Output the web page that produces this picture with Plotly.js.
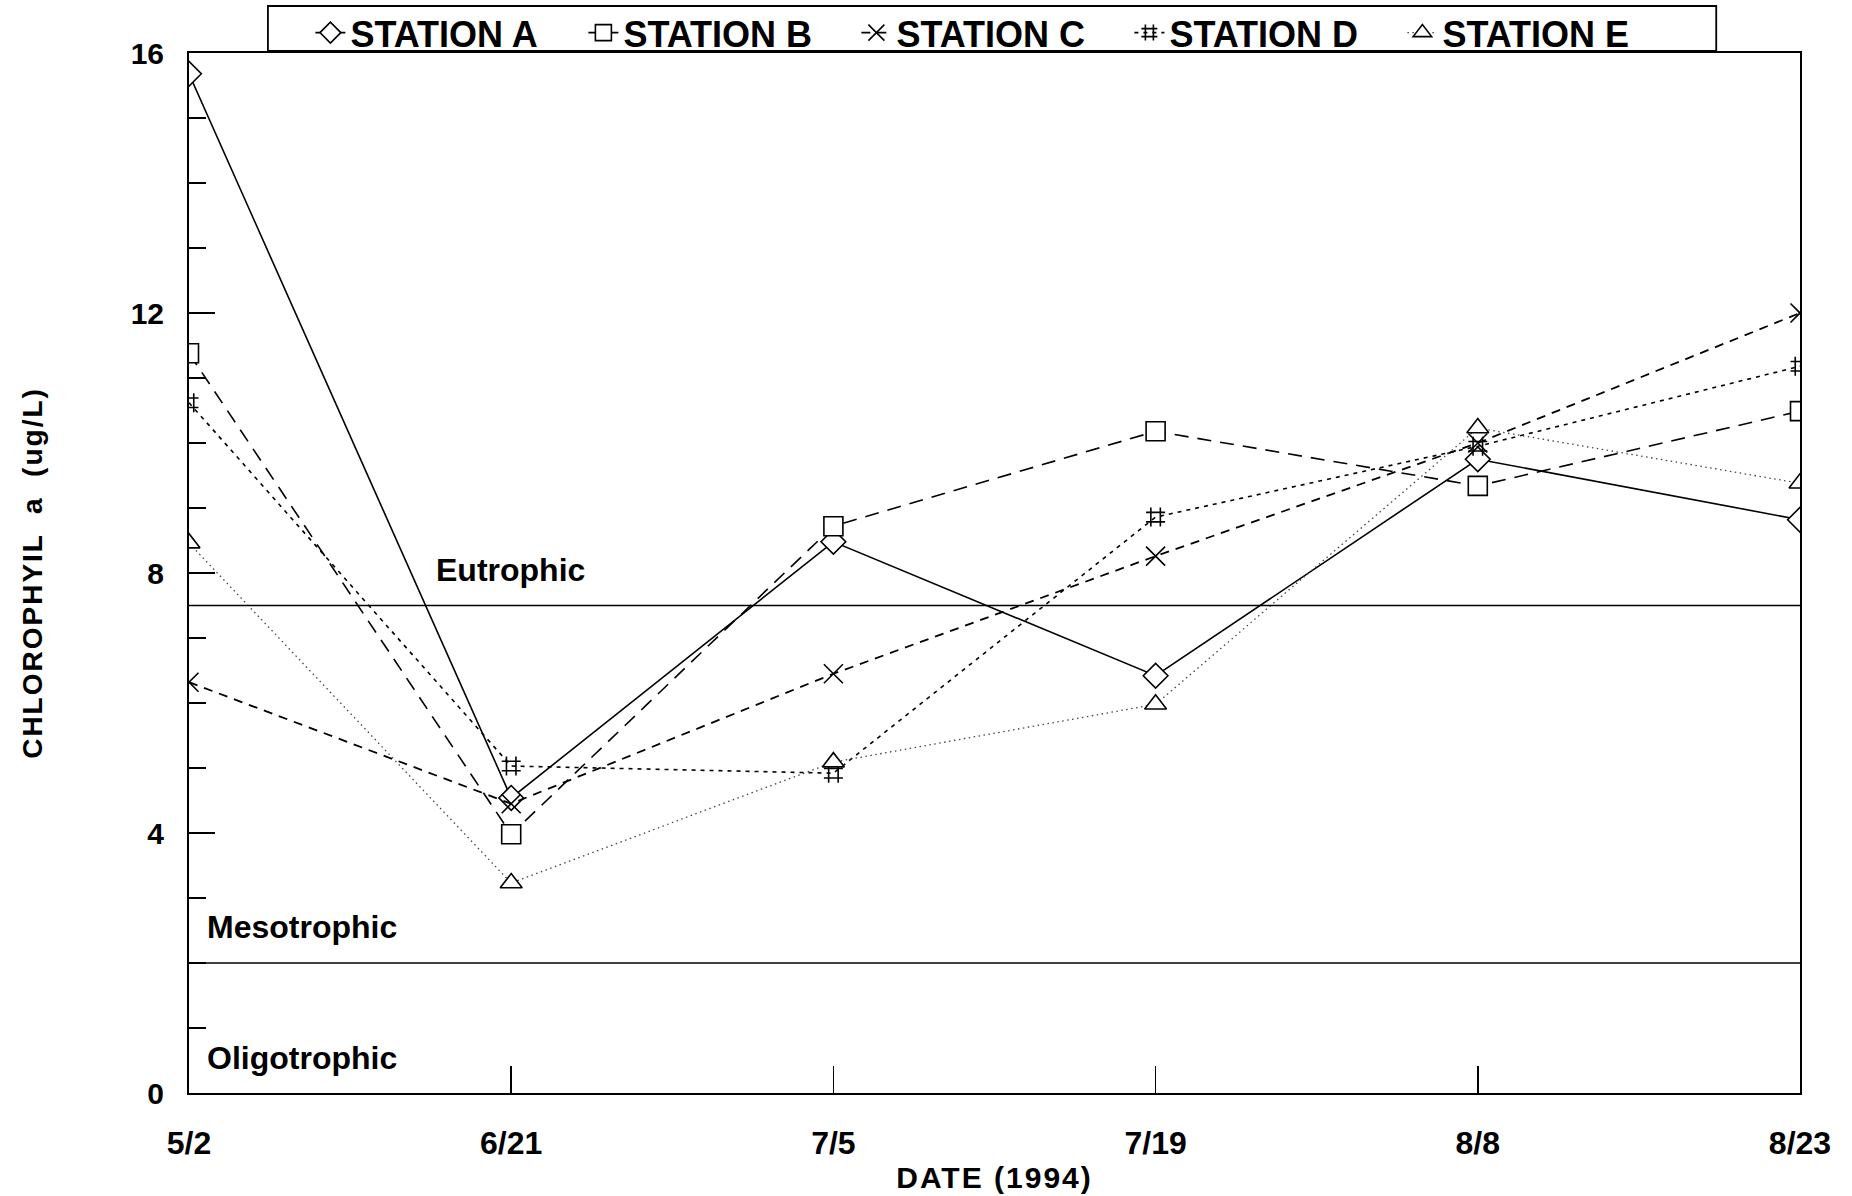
<!DOCTYPE html>
<html>
<head>
<meta charset="utf-8">
<script src="https://cdn.plot.ly/plotly-3.0.1.min.js"></script>
<style>
  html, body { margin: 0; padding: 0; background: #fff; }
  #chart { width: 1852px; height: 1196px; }
  .g-ytitle text { letter-spacing: 2px; }
  .g-xtitle text { letter-spacing: 2px; }
</style>
</head>
<body>
<div id="chart"></div>
<script>
// ---- data ----
const dates = ['5/2', '6/21', '7/5', '7/19', '8/8', '8/23'];
const stationA = [15.68, 4.54, 8.48, 6.42, 9.75, 8.82];
const stationB = [11.38, 3.98, 8.72, 10.18, 9.34, 10.49];
const stationC = [6.32, 4.45, 6.45, 8.26, 10.0, 12.0];
const stationD = [10.62, 5.03, 4.92, 8.86, 9.95, 11.18];
const stationE = [8.46, 3.23, 5.09, 5.98, 10.23, 9.38];
const stationNames = ['STATION A', 'STATION B', 'STATION C', 'STATION D', 'STATION E'];
const eutrophicLimit = 7.5;
const mesotrophicLimit = 2.0;

const FONT = '"Liberation Sans", Arial, Helvetica, sans-serif';

function trace(name, y, dash, symbol, fill, lw, lcolor) {
  return {
    x: dates, y: y, name: name, type: 'scatter', mode: 'lines+markers',
    line: { color: lcolor, width: lw, dash: dash },
    marker: { symbol: symbol, size: 19, color: fill, line: { color: '#000', width: 1.6 } }
  };
}

const data = [
  trace(stationNames[0], stationA, 'solid', 'diamond', '#fff', 1.6, '#000'),
  trace(stationNames[1], stationB, '14px,9px', 'square', '#fff', 1.6, '#000'),
  trace(stationNames[2], stationC, '9px,7px', 'x-thin-open', '#000', 1.8, '#000'),
  trace(stationNames[3], stationD, '4px,5px', 'hash-open', '#000', 1.6, '#000'),
  trace(stationNames[4], stationE, '1.5px,3.5px', 'triangle-up', '#fff', 1.3, '#444')
];

const layout = {
  width: 1852, height: 1196,
  paper_bgcolor: '#fff', plot_bgcolor: '#fff',
  margin: { l: 189, r: 52, t: 53, b: 103, autoexpand: false },
  font: { family: FONT, color: '#000', weight: 'bold' },
  showlegend: true,
  legend: {
    orientation: 'h', x: 0.499, xanchor: 'center', y: 1.0195, yanchor: 'middle',
    borderwidth: 0, bgcolor: 'rgba(0,0,0,0)',
    font: { family: FONT, size: 36, color: '#000', weight: 'bold' },
    entrywidth: 228, entrywidthmode: 'pixels', itemwidth: 30,
    traceorder: 'normal', valign: 'middle'
  },
  xaxis: {
    type: 'category', range: [0, 5], fixedrange: true,
    showline: true, linecolor: '#000', linewidth: 2, mirror: true,
    ticks: 'inside', ticklen: 27, tickwidth: 1.5, tickcolor: '#000',
    showgrid: false, zeroline: false,
    tickfont: { family: FONT, size: 32, color: '#000', weight: 'bold' },
    ticklabelstandoff: 21,
    title: { text: 'DATE (1994)', font: { family: FONT, size: 30, color: '#000', weight: 'bold' }, standoff: 7 }
  },
  yaxis: {
    range: [0, 16], dtick: 4, tick0: 0, fixedrange: true,
    showline: true, linecolor: '#000', linewidth: 2, mirror: true,
    ticks: 'inside', ticklen: 26, tickwidth: 1.5, tickcolor: '#000',
    minor: { dtick: 1, ticks: 'inside', ticklen: 17, tickwidth: 1.5, tickcolor: '#000', showgrid: false },
    showgrid: false, zeroline: false,
    tickfont: { family: FONT, size: 30, color: '#000', weight: 'bold' },
    ticklabelstandoff: 17,
    title: { text: 'CHLOROPHYIL  a  (ug/L)', font: { family: FONT, size: 28, color: '#000', weight: 'bold' }, standoff: 80 }
  },
  shapes: [
    { type: 'line', xref: 'paper', x0: 0, x1: 1, yref: 'y', y0: eutrophicLimit, y1: eutrophicLimit, line: { color: '#000', width: 1.6 } },
    { type: 'line', xref: 'paper', x0: 0, x1: 1, yref: 'y', y0: mesotrophicLimit, y1: mesotrophicLimit, line: { color: '#000', width: 1.6 } },
    // legend frame
    { type: 'rect', xref: 'paper', yref: 'paper', x0: 0.049, x1: 0.948, y0: 1.0019, y1: 1.0452,
      line: { color: '#000', width: 1.8 }, fillcolor: 'rgba(0,0,0,0)' }
  ],
  annotations: [
    { text: 'Eutrophic', xref: 'x', x: 0.76, yref: 'y', y: 8.05, xanchor: 'left', yanchor: 'middle', showarrow: false,
      font: { family: FONT, size: 32, color: '#000', weight: 'bold' } },
    { text: 'Mesotrophic', xref: 'x', x: 0.05, yref: 'y', y: 2.55, xanchor: 'left', yanchor: 'middle', showarrow: false,
      font: { family: FONT, size: 32, color: '#000', weight: 'bold' } },
    { text: 'Oligotrophic', xref: 'x', x: 0.05, yref: 'y', y: 0.54, xanchor: 'left', yanchor: 'middle', showarrow: false,
      font: { family: FONT, size: 32, color: '#000', weight: 'bold' } }
  ]
};

Plotly.newPlot('chart', data, layout, { displayModeBar: false, staticPlot: true });
</script>
</body>
</html>
